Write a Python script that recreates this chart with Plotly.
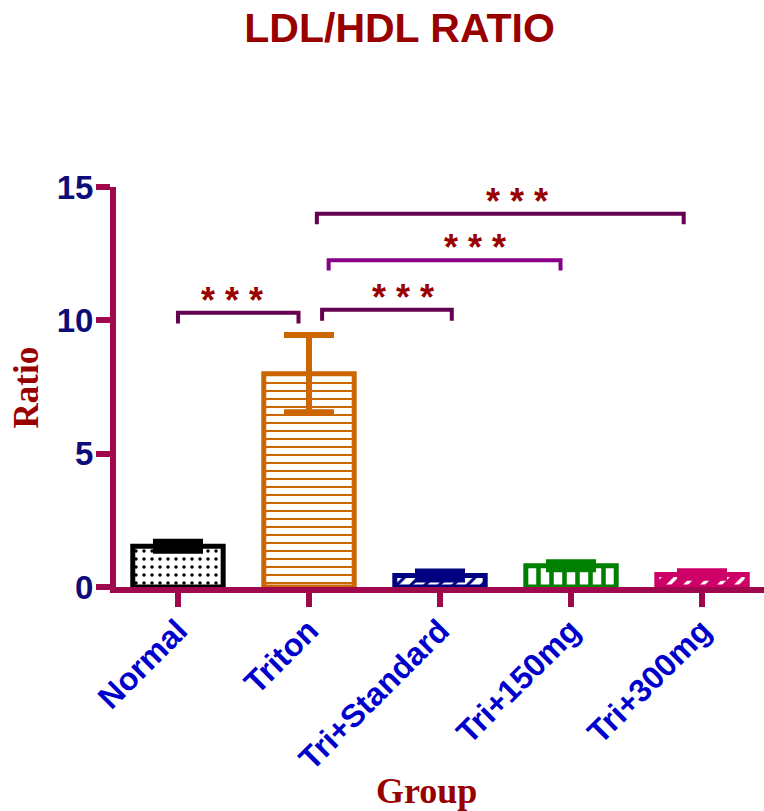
import plotly.graph_objects as go

# Group means and SD of the LDL/HDL ratio
groups = ["Normal", "Triton", "Tri+Standard", "Tri+150mg", "Tri+300mg"]
ratio_mean = [1.53, 8.0, 0.43, 0.80, 0.47]
ratio_sd = [0.17, 1.45, 0.15, 0.13, 0.12]

# Per-group styling
edge_colors = ["#000000", "#CC6600", "#000080", "#008000", "#CC0066"]
pattern_shapes = [".", "-", "/", "|", "/"]
pattern_fg = ["#000000", "#CC6600", "#000080", "#008000", "#FFFFFF"]
pattern_bg = ["#FFFFFF", "#FFFFFF", "#FFFFFF", "#FFFFFF", "#CC0066"]
pattern_size = [8, 8, 10, 13, 12]
pattern_solid = [0.15, 0.25, 0.3, 0.35, 0.3]

# Significance brackets (x in group-index units, y in ratio units) and labels
sig_left = [0.0, 1.1, 1.15, 1.06]
sig_right = [0.92, 2.09, 2.92, 3.86]
sig_top = [10.28, 10.4, 12.25, 14.0]
sig_drop = [0.4, 0.42, 0.38, 0.4]
sig_label_x = [0.41, 1.72, 2.27, 2.59]
sig_labels = ["* * *", "* * *", "* * *", "* * *"]
sig_colors = ["#660050", "#660050", "#880088", "#660050"]

AXIS = "#A0084E"
positions = list(range(len(groups)))

fig = go.Figure()

for i in positions:
    fig.add_trace(go.Bar(
        x=[positions[i]], y=[ratio_mean[i]], width=0.69,
        marker=dict(
            color="#FFFFFF",
            line=dict(color=edge_colors[i], width=5),
            pattern=dict(shape=pattern_shapes[i], fgcolor=pattern_fg[i],
                         bgcolor=pattern_bg[i], size=pattern_size[i],
                         solidity=pattern_solid[i], fillmode="replace"),
        ),
        error_y=dict(type="data", array=[ratio_sd[i]], visible=True,
                     color=edge_colors[i], thickness=6, width=25),
        showlegend=False, name=groups[i],
    ))

for i in range(len(sig_left)):
    fig.add_trace(go.Scatter(
        x=[sig_left[i], sig_left[i], sig_right[i], sig_right[i]],
        y=[sig_top[i] - sig_drop[i], sig_top[i], sig_top[i], sig_top[i] - sig_drop[i]],
        mode="lines", line=dict(color=sig_colors[i], width=4),
        showlegend=False, cliponaxis=False, hoverinfo="skip",
    ))
    fig.add_annotation(
        x=sig_label_x[i], y=sig_top[i], yshift=-10,
        text=sig_labels[i], showarrow=False, yanchor="bottom",
        font=dict(family="Liberation Sans", size=36, color="#990000", weight="bold"),
    )

fig.update_layout(
    width=764, height=811,
    margin=dict(l=116, r=0, t=187, b=224),
    plot_bgcolor="white", paper_bgcolor="white",
    title=dict(text="LDL/HDL RATIO", x=0.523, xanchor="center", y=0.966, yanchor="middle",
               font=dict(family="Liberation Sans", size=41, color="#990000", weight="bold")),
    xaxis=dict(
        range=[-0.473, 4.473], tickvals=positions, ticktext=groups,
        showline=True, linewidth=6, linecolor=AXIS,
        ticks="outside", ticklen=14, tickwidth=6, tickcolor=AXIS,
        tickangle=-45, showgrid=False, zeroline=False, ticklabelstandoff=-8,
        tickfont=dict(family="Liberation Sans", size=32, color="#0000CC", weight="bold"),
    ),
    yaxis=dict(
        range=[0, 15], tickvals=[0, 5, 10, 15],
        showline=True, linewidth=6, linecolor=AXIS,
        ticks="outside", ticklen=14, tickwidth=6, tickcolor=AXIS,
        showgrid=False, zeroline=False, ticklabelstandoff=-4,
        tickfont=dict(family="Liberation Sans", size=33, color="#0D0D7A", weight="bold"),
    ),
)

fig.add_annotation(
    xref="paper", yref="paper", x=(27 - 116) / 648, y=(586 - 387) / 399,
    text="Ratio", textangle=-90, showarrow=False, xanchor="center", yanchor="middle",
    font=dict(family="Liberation Serif", size=35, color="#990000", weight="bold"),
)
fig.add_annotation(
    xref="paper", yref="paper", x=(426 - 116) / 648, y=(586 - 789) / 399,
    text="Group", showarrow=False, xanchor="center", yanchor="middle",
    font=dict(family="Liberation Serif", size=36, color="#990000", weight="bold"),
)

fig.write_html("out.html")
